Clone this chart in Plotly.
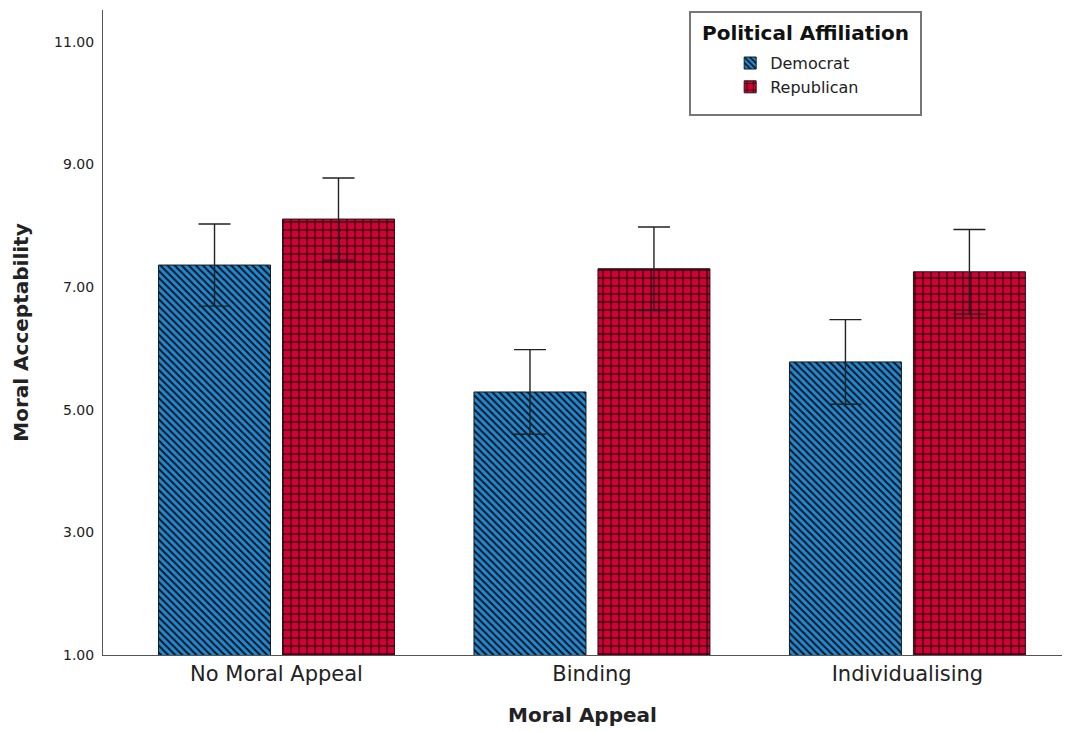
import plotly.graph_objects as go

# Group means and error-bar half widths (95% CI)
categories = ["No Moral Appeal", "Binding", "Individualising"]
democrat_mean = [7.36, 5.29, 5.78]
democrat_err = [0.67, 0.69, 0.69]
republican_mean = [8.11, 7.30, 7.25]
republican_err = [0.67, 0.68, 0.69]
y_ticks = [1, 3, 5, 7, 9, 11]
y_tick_text = ["1.00", "3.00", "5.00", "7.00", "9.00", "11.00"]

FONT = "DejaVu Sans"
BLUE = "#1c8ad8"
RED = "#d10036"

x_idx = list(range(len(categories)))
bar_w = 0.355

fig = go.Figure()
fig.add_trace(go.Bar(
    name="Democrat", x=x_idx, y=democrat_mean,
    width=bar_w, offset=-0.374,
    marker=dict(color=BLUE, line=dict(color="#1a1a1a", width=1),
                pattern=dict(shape="\\", size=5, solidity=0.4,
                             fgcolor="#111111", bgcolor=BLUE, fillmode="replace")),
    error_y=dict(type="data", array=democrat_err, color="#222222",
                 thickness=1.4, width=16),
))
fig.add_trace(go.Bar(
    name="Republican", x=x_idx, y=republican_mean,
    width=bar_w, offset=0.019,
    marker=dict(color=RED, line=dict(color="#1a1a1a", width=1),
                pattern=dict(shape="+", size=8, solidity=0.3,
                             fgcolor="#3a000c", bgcolor=RED, fillmode="replace")),
    error_y=dict(type="data", array=republican_err, color="#222222",
                 thickness=1.4, width=16),
))

fig.update_layout(
    width=1077, height=731,
    margin=dict(l=103, r=15, t=10, b=76),
    paper_bgcolor="white", plot_bgcolor="white",
    font=dict(family=FONT, color="#222222"),
    barmode="overlay",
    showlegend=True,
    legend=dict(x=0.654, y=0.944, xanchor="left", yanchor="top",
                bgcolor="rgba(0,0,0,0)", borderwidth=0,
                font=dict(family=FONT, size=16, color="#222222"),
                tracegroupgap=0, itemwidth=30),
    xaxis=dict(
        range=[-0.55, 2.49], tickmode="array", tickvals=x_idx, ticktext=categories,
        showline=True, linecolor="#555555", linewidth=1, ticks="",
        showgrid=False, zeroline=False,
        tickfont=dict(family=FONT, size=21, color="#222222"),
        title=dict(text="<b>Moral Appeal</b>", standoff=22,
                   font=dict(family=FONT, size=20, color="#222222")),
    ),
    yaxis=dict(
        range=[1, 11.52], tickmode="array", tickvals=y_ticks, ticktext=y_tick_text,
        showline=True, linecolor="#555555", linewidth=1, ticks="",
        ticklabelstandoff=5,
        showgrid=False, zeroline=False,
        tickfont=dict(family=FONT, size=14, color="#222222"),
        title=dict(text="<b>Moral Acceptability</b>", standoff=20,
                   font=dict(family=FONT, size=20, color="#222222")),
    ),
)

# Legend frame and heading
fig.add_shape(type="rect", xref="paper", yref="paper",
              x0=(690 - 103) / 959, x1=(921 - 103) / 959,
              y0=(655 - 115) / 645, y1=(655 - 12) / 645,
              line=dict(color="#777777", width=2), fillcolor="rgba(0,0,0,0)")
fig.add_annotation(xref="paper", yref="paper",
                   x=(805.5 - 103) / 959, y=(655 - 33) / 645,
                   text="<b>Political Affiliation</b>", showarrow=False,
                   xanchor="center", yanchor="middle",
                   font=dict(family=FONT, size=20, color="#111111"))

fig.write_html("out.html")
